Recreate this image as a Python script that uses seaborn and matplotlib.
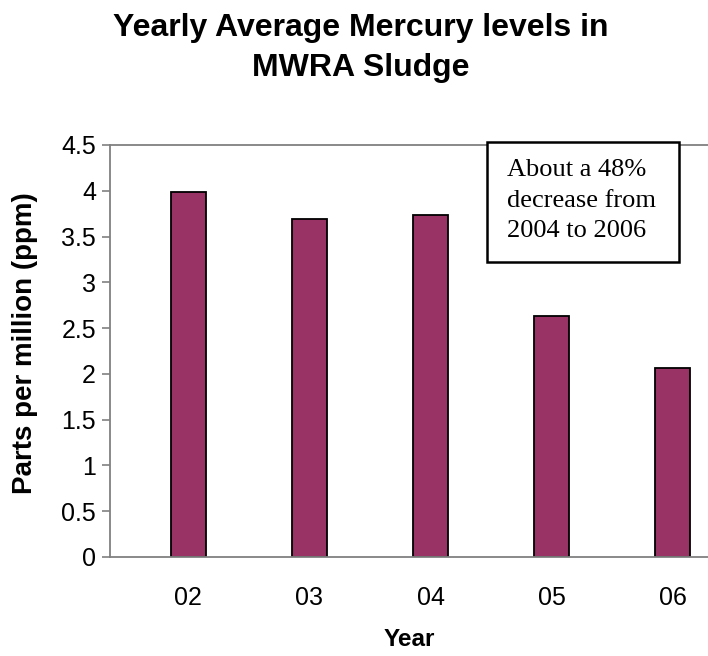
import matplotlib
matplotlib.use("Agg")
import matplotlib.pyplot as plt
from matplotlib.patches import Rectangle
import seaborn as sns
import pandas as pd

# Yearly average mercury in sludge, parts per million
years = ["02", "03", "04", "05", "06"]
mercury_ppm = [3.99, 3.69, 3.73, 2.63, 2.06]
y_ticks = [0, 0.5, 1, 1.5, 2, 2.5, 3, 3.5, 4, 4.5]
y_tick_labels = ["0", "0.5", "1", "1.5", "2", "2.5", "3", "3.5", "4", "4.5"]

df = pd.DataFrame({"Year": years, "ppm": mercury_ppm})

sns.set_theme(style="white")
plt.rcParams["font.family"] = ["Liberation Sans", "DejaVu Sans"]
plt.rcParams["text.color"] = "black"
plt.rcParams["axes.labelcolor"] = "black"

fig = plt.figure(figsize=(7.08, 6.56), dpi=100)
ax = fig.add_axes([110 / 708, 1 - 557 / 656, 1 - 110 / 708, (557 - 145) / 656])

sns.barplot(data=df, x="Year", y="ppm", color="#993366", saturation=1,
            width=0.29, edgecolor="black", linewidth=1.3, ax=ax)

ax.set_xlim(-0.645, 4.29)
ax.set_ylim(0, 4.5)
ax.set_yticks(y_ticks)
ax.set_yticklabels(y_tick_labels)

grey = "#808080"
for side in ["left", "bottom", "top"]:
    ax.spines[side].set_color(grey)
    ax.spines[side].set_linewidth(1.3)
ax.spines["right"].set_visible(False)

ax.tick_params(axis="y", which="major", left=True, length=6, width=1.2,
               color=grey, labelsize=18, pad=4, labelcolor="black")
ax.tick_params(axis="x", bottom=False, labelsize=18, pad=15, labelcolor="black")

ax.set_xlabel("Year", fontsize=17.5, fontweight="bold", labelpad=13, color="black")
ax.set_ylabel("Parts per million (ppm)", fontsize=20, fontweight="bold", color="black")
ax.yaxis.set_label_coords(-0.12, 0.52)

fig.text(361 / 708, 1 - 48 / 656, "Yearly Average Mercury levels in\nMWRA Sludge",
         ha="center", va="center", fontsize=23, fontweight="bold",
         linespacing=1.45, color="black")

# Annotation box
box = Rectangle((487 / 708, 1 - 262 / 656), (679 - 487) / 708, (262 - 142) / 656,
                transform=fig.transFigure, facecolor="white", edgecolor="black",
                linewidth=1.8, zorder=5)
fig.patches.append(box)
fig.text(507 / 708, 1 - 159 / 656, "About a 48%\ndecrease from\n2004 to 2006",
         ha="left", va="top", fontsize=19, family=["Liberation Serif", "DejaVu Serif"],
         linespacing=1.5, color="black", zorder=6)

fig.savefig("out.png", dpi=100)
